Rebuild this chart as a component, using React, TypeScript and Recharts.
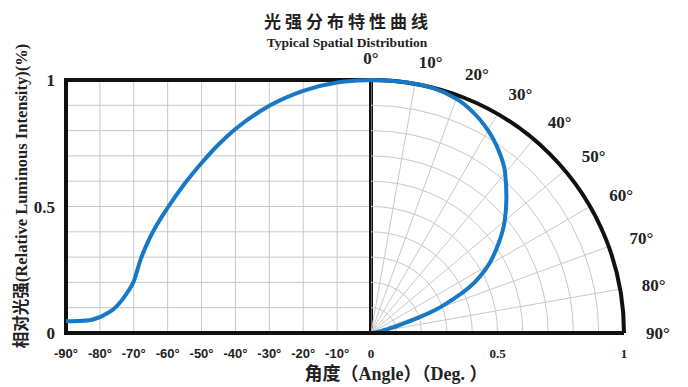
import React from 'react';
import {
  LineChart,
  Line,
  XAxis,
  YAxis,
  CartesianGrid,
  ReferenceArea,
  RadialBarChart,
  PolarGrid,
  PolarAngleAxis,
  PolarRadiusAxis,
} from 'recharts';

// ---- Left (rectangular) plot: relative intensity vs angle ----
const leftAngles = [-90, -85, -80, -75, -72, -70, -68, -65, -60, -55, -50, -45, -40, -30, -20, -10, -5, 0];
const leftIntensity = [0.046, 0.048, 0.063, 0.106, 0.158, 0.205, 0.29, 0.383, 0.495, 0.59, 0.672, 0.745, 0.806, 0.898, 0.957, 0.99, 0.997, 1.0];
const leftTicks = [-90, -80, -70, -60, -50, -40, -30, -20, -10];
const leftTickLabels = ['-90°', '-80°', '-70°', '-60°', '-50°', '-40°', '-30°', '-20°', '-10°'];
const yTicks = [0, 0.1, 0.2, 0.3, 0.4, 0.5, 0.6, 0.7, 0.8, 0.9, 1];
const yTickLabels = ['0', '', '', '', '', '0.5', '', '', '', '', '1'];

// ---- Right (polar) plot: relative intensity vs angle (listed from 90° back to 0°) ----
const polarAngles = [90, 85, 80, 78, 76, 74, 72, 70, 68, 65, 60, 55, 50, 45, 40, 35, 30, 25, 20, 15, 10, 5, 0];
const polarIntensity = [0, 0.006, 0.025, 0.05, 0.085, 0.13, 0.2, 0.28, 0.34, 0.43, 0.535, 0.615, 0.69, 0.757, 0.825, 0.88, 0.925, 0.96, 0.985, 0.997, 1.0, 1.0, 1.0];
const polarAngleTicks = [0, 10, 20, 30, 40, 50, 60, 70, 80, 90];
const polarAngleLabels = ['0°', '10°', '20°', '30°', '40°', '50°', '60°', '70°', '80°', '90°'];
const radiusTicks = [0, 0.1, 0.2, 0.3, 0.4, 0.5, 0.6, 0.7, 0.8, 0.9, 1];
const radiusTickLabels = ['0', '0.5', '1'];
const radiusLabelTicks = [0, 0.5, 1];

const leftRows = leftAngles.map((a, i) => ({ angle: a, intensity: leftIntensity[i] }));
const polarRows = polarAngles.map((a, i) => ({ angle: a, r: polarIntensity[i] }));
const polarXY = polarAngles.map((a, i) => {
  const t = (a * Math.PI) / 180;
  return { x: polarIntensity[i] * Math.sin(t), y: polarIntensity[i] * Math.cos(t) };
});

const BLUE = '#1778c6';
const INK = '#222';
const GRID = '#c8c8c8';
const SERIF = 'Liberation Serif, Times New Roman, Noto Sans CJK SC, serif';

const AngleTick = (props: any) => {
  const { x, y, index, textAnchor } = props;
  return (
    <text
      x={x}
      y={y}
      textAnchor={textAnchor}
      dominantBaseline="central"
      fontSize={17}
      fontWeight={700}
      fontFamily={SERIF}
      fill={INK}
    >
      {polarAngleLabels[index]}
    </text>
  );
};

export default function App() {
  return (
    <div style={{ position: 'absolute', left: 0, top: 0, width: 688, height: 387, background: '#fff', overflow: 'hidden' }}>
      {/* Left rectangular plot */}
      <div style={{ position: 'absolute', left: 0, top: 0 }}>
        <LineChart width={380} height={387} data={leftRows} margin={{ top: 80, right: 9, bottom: 24, left: 0 }}>
          <CartesianGrid stroke={GRID} strokeWidth={1} />
          <XAxis
            type="number"
            dataKey="angle"
            domain={[-90, 0]}
            ticks={leftTicks}
            tickFormatter={(v: number, i: number) => leftTickLabels[i]}
            axisLine={false}
            tickLine={false}
            height={30}
            tickMargin={10}
            tick={{ fontSize: 13, fontWeight: 700, fill: INK, fontFamily: 'Liberation Sans, Arial, sans-serif' }}
            interval={0}
          />
          <YAxis
            type="number"
            domain={[0, 1]}
            ticks={yTicks}
            tickFormatter={(v: number, i: number) => yTickLabels[i]}
            axisLine={false}
            tickLine={false}
            width={66}
            tickMargin={5}
            interval={0}
            tick={{ fontSize: 17, fontWeight: 700, fill: INK, fontFamily: SERIF }}
          />
          <ReferenceArea x1={-90} x2={0} y1={0} y2={1} fill="none" stroke="#111" strokeWidth={4} />
          <Line
            type="monotone"
            dataKey="intensity"
            stroke={BLUE}
            strokeWidth={4}
            dot={false}
            isAnimationActive={false}
          />
        </LineChart>
      </div>

      {/* Polar grid (quarter, clipped by its own svg bounds) */}
      <div style={{ position: 'absolute', left: 371, top: 0 }}>
        <RadialBarChart
          width={300}
          height={333}
          data={polarRows}
          cx={0}
          cy={333}
          innerRadius={0}
          outerRadius={253}
          startAngle={90}
          endAngle={0}
          margin={{ top: 0, right: 0, bottom: 0, left: 0 }}
        >
          <PolarGrid gridType="circle" stroke={GRID} strokeWidth={1} />
          <PolarAngleAxis
            type="number"
            dataKey="angle"
            domain={[0, 90]}
            ticks={polarAngleTicks}
            tick={false}
            tickLine={false}
            axisLineType="circle"
            axisLine={{ stroke: '#111', strokeWidth: 4 }}
          />
          <PolarRadiusAxis
            type="number"
            dataKey="r"
            domain={[0, 1]}
            ticks={radiusTicks}
            tick={false}
            axisLine={false}
            tickLine={false}
          />
        </RadialBarChart>
      </div>

      {/* Polar curve drawn in cartesian form */}
      <div style={{ position: 'absolute', left: 0, top: 0 }}>
        <LineChart width={688} height={387} data={polarXY} margin={{ top: 80, right: 64, bottom: 24, left: 371 }}>
          <XAxis
            type="number"
            dataKey="x"
            domain={[0, 1]}
            ticks={radiusLabelTicks}
            tickFormatter={(v: number, i: number) => radiusTickLabels[i]}
            axisLine={{ stroke: '#111', strokeWidth: 4 }}
            tickLine={false}
            height={30}
            tickMargin={10}
            interval={0}
            tick={{ fontSize: 13, fontWeight: 700, fill: INK, fontFamily: SERIF }}
          />
          <YAxis type="number" dataKey="y" domain={[0, 1]} hide width={0} />
          <Line
            type="monotoneY"
            dataKey="y"
            stroke={BLUE}
            strokeWidth={4}
            dot={false}
            isAnimationActive={false}
          />
        </LineChart>
      </div>

      {/* Angle labels around the arc */}
      <div style={{ position: 'absolute', left: 0, top: 0, pointerEvents: 'none' }}>
        <RadialBarChart
          width={688}
          height={387}
          data={polarRows}
          cx={371}
          cy={333}
          innerRadius={0}
          outerRadius={253}
          startAngle={90}
          endAngle={0}
          margin={{ top: 0, right: 0, bottom: 0, left: 0 }}
        >
          <PolarAngleAxis
            type="number"
            dataKey="angle"
            domain={[0, 90]}
            ticks={polarAngleTicks}
            tick={AngleTick}
            tickLine={false}
            tickSize={22}
            axisLine={false}
          />
          <PolarRadiusAxis type="number" dataKey="r" domain={[0, 1]} tick={false} axisLine={false} tickLine={false} />
        </RadialBarChart>
      </div>

      {/* Titles */}
      <svg width={688} height={387} style={{ position: 'absolute', left: 0, top: 0, pointerEvents: 'none' }}>
        <text x={348} y={20} textAnchor="middle" dominantBaseline="central" fontSize={17} fontWeight={700}
          letterSpacing={4} fontFamily="Noto Sans CJK SC, sans-serif" fill={INK}>
          光强分布特性曲线
        </text>
        <text x={347} y={42} textAnchor="middle" dominantBaseline="central" fontSize={13.5} fontWeight={700}
          fontFamily={SERIF} fill={INK}>
          Typical Spatial Distribution
        </text>
        <text x={396} y={374} textAnchor="middle" dominantBaseline="central" fontSize={18} fontWeight={700}
          fontFamily={SERIF} fill={INK}>
          角度（Angle）（Deg. ）
        </text>
        <text x={0} y={0} transform="translate(21,196) rotate(-90)" textAnchor="middle" dominantBaseline="central"
          fontSize={16.5} fontWeight={700} fontFamily={SERIF} fill={INK}>
          相对光强(Relative Luminous Intensity)(%)
        </text>
      </svg>
    </div>
  );
}
